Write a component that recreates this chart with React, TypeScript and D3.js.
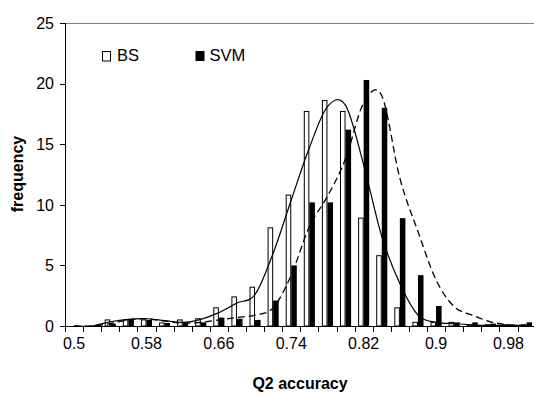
import React from 'react';
import * as d3 from 'd3';

// histogram bins (Q2 accuracy), step 0.02
const categories = [0.5, 0.52, 0.54, 0.56, 0.58, 0.6, 0.62, 0.64, 0.66, 0.68, 0.7, 0.72, 0.74,
  0.76, 0.78, 0.8, 0.82, 0.84, 0.86, 0.88, 0.9, 0.92, 0.94, 0.96, 0.98, 1.0];
const bsBars = [0, 0, 0.5, 0.5, 0.5, 0.25, 0.5, 0.6, 1.5, 2.4, 3.2, 8.1, 10.8,
  17.7, 18.6, 17.7, 8.9, 5.8, 1.5, 0.3, 0.3, 0.3, 0.1, 0.1, 0.1, 0.1];
const svmBars = [0, 0, 0.2, 0.5, 0.5, 0.25, 0.3, 0.3, 0.7, 0.6, 0.5, 2.1, 5.0,
  10.2, 10.2, 16.2, 20.3, 18.0, 8.9, 4.2, 1.65, 0.3, 0.3, 0.2, 0.1, 0.3];
// fitted curves
const bsFit = [0, 0, 0.35, 0.55, 0.6, 0.45, 0.3, 0.55, 1.1, 1.9, 2.6, 6.0, 10.4,
  14.7, 18.1, 18.2, 13.3, 7.4, 3.5, 0.9, 0.3, 0.2, 0.1, 0.05, 0.05, 0.05];
const svmFit = [0, 0, 0.2, 0.5, 0.6, 0.4, 0.25, 0.3, 0.5, 0.7, 0.9, 1.5, 4.2,
  8.2, 10.7, 13.8, 18.4, 19.0, 12.2, 7.8, 3.8, 1.6, 0.9, 0.35, 0.1, 0.05];
const yTicks = [0, 5, 10, 15, 20, 25];
const xTickLabels = ['0.5', '0.58', '0.66', '0.74', '0.82', '0.9', '0.98'];

const font = "Arial, 'Liberation Sans', sans-serif";

const App = () => {
  const width = 534;
  const height = 394;
  const left = 65;
  const right = 535.6;
  const top = 23;
  const bottom = 326;

  const x = d3.scaleBand<number>().domain(categories).range([left, right]).padding(0);
  const inner = d3.scaleBand<string>().domain(['bs', 'svm'])
    .range([0, x.bandwidth()]).paddingInner(0).paddingOuter(0.63);
  const y = d3.scaleLinear().domain([0, 25]).range([bottom, top]);

  const cx = (i: number) => (x(categories[i]) as number) + x.bandwidth() / 2;
  const line = d3.line<number>()
    .x((d, i) => cx(i))
    .y(d => y(d))
    .curve(d3.curveCardinal.tension(0));

  return (
    <svg width={width} height={height} style={{ position: 'absolute', left: 0, top: 0 }}
      fontFamily={font}>
      <rect width={width} height={height} fill="#fff" />
      <line x1={left} x2={width} y1={top + 0.5} y2={top + 0.5} stroke="#808080" />

      {categories.map((c, i) => {
        const x0 = x(c) as number;
        return (
          <g key={c}>
            {bsBars[i] > 0 && (
              <rect x={x0 + (inner('bs') as number) + 0.5} y={y(bsBars[i])}
                width={inner.bandwidth() - 1} height={bottom - y(bsBars[i])}
                fill="#fff" stroke="#000" strokeWidth={1} />
            )}
            {svmBars[i] > 0 && (
              <rect x={x0 + (inner('svm') as number)} y={y(svmBars[i])}
                width={inner.bandwidth()} height={bottom - y(svmBars[i])} fill="#000" />
            )}
          </g>
        );
      })}

      <path d={line(bsFit) || ''} fill="none" stroke="#000" strokeWidth={1.2} />
      <path d={line(svmFit) || ''} fill="none" stroke="#000" strokeWidth={1.3}
        strokeDasharray="7,4" />

      {/* y axis */}
      <line x1={left + 0.5} x2={left + 0.5} y1={top} y2={bottom} stroke="#000" />
      {yTicks.map(t => (
        <g key={t}>
          <line x1={left - 5} x2={left} y1={Math.round(y(t)) + 0.5} y2={Math.round(y(t)) + 0.5}
            stroke="#000" />
          <text x={54} y={y(t)} dy="0.36em" textAnchor="end" fontSize={16}>{t}</text>
        </g>
      ))}

      {/* x axis */}
      <line x1={left} x2={width} y1={bottom + 0.5} y2={bottom + 0.5} stroke="#000" />
      {categories.map(c => {
        const xx = Math.round(x(c) as number) + 0.5;
        return <line key={c} x1={xx} x2={xx} y1={bottom} y2={bottom + 6} stroke="#000" />;
      })}
      {xTickLabels.map((l, k) => (
        <text key={l} x={cx(k * 4)} y={349} textAnchor="middle" fontSize={16}>{l}</text>
      ))}

      <text x={300} y={389} textAnchor="middle" fontSize={16} fontWeight="bold">Q2 accuracy</text>
      <text transform={`translate(23,174) rotate(-90)`} textAnchor="middle" fontSize={16}
        fontWeight="bold">frequency</text>

      {/* legend */}
      <rect x={102.5} y={51.5} width={8} height={9.5} fill="#fff" stroke="#000" />
      <text x={117} y={61} fontSize={16.5}>BS</text>
      <rect x={195.5} y={51} width={9} height={10} fill="#000" />
      <text x={209.5} y={61} fontSize={16.5}>SVM</text>
    </svg>
  );
};

export default App;
